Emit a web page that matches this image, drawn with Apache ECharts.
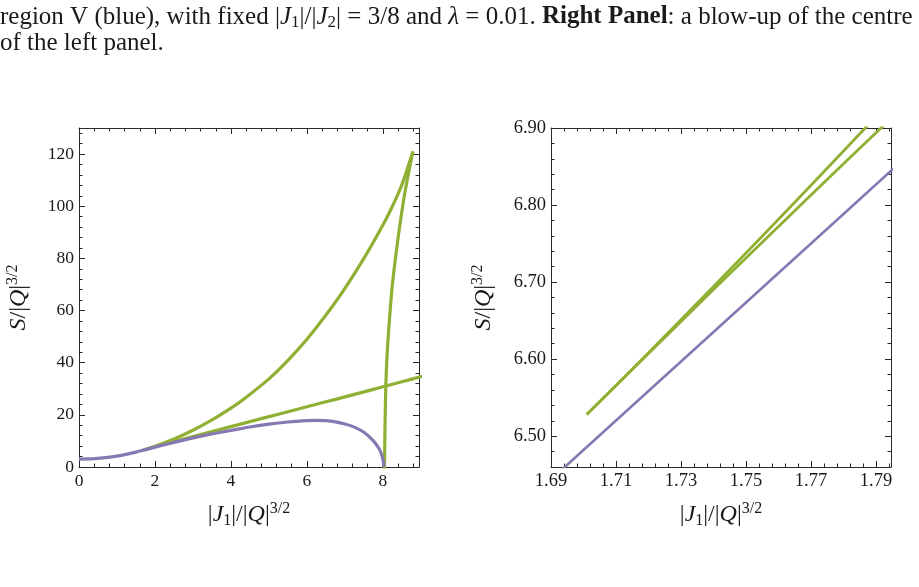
<!DOCTYPE html>
<html>
<head>
<meta charset="utf-8">
<script src="https://cdn.jsdelivr.net/npm/echarts@6/dist/echarts.min.js"></script>
<style>
html,body{margin:0;padding:0;background:#fff;}
#chart{width:919px;height:587px;}
</style>
</head>
<body>
<div id="chart"></div>
<script>
// ---------------- data ----------------
// Left panel: purple curve (region V)
const leftPurpleX = [0, 0.5, 1.0, 1.5, 1.7, 2.0, 2.5, 3.0, 3.5, 4.0, 4.5, 5.0, 5.5, 6.0, 6.25, 6.5, 6.75, 7.0, 7.25, 7.5, 7.75, 7.9, 7.96, 8.0, 8.015, 8.02];
const leftPurpleY = [3.0, 3.28, 4.15, 5.7, 6.48, 7.62, 9.45, 11.15, 12.7, 14.0, 15.35, 16.45, 17.25, 17.75, 17.85, 17.75, 17.3, 16.5, 15.3, 13.3, 10.0, 7.0, 5.0, 2.8, 1.4, 0];
// Left panel: green swallowtail, lower straight branch
const leftGreenLowerX = [1.701, 2, 2.5, 3, 3.5, 4, 4.5, 5, 5.5, 6, 6.5, 7, 7.5, 8, 8.5, 9.1];
const leftGreenLowerY = [6.53, 7.75, 9.72, 11.66, 13.58, 15.5, 17.4, 19.3, 21.2, 23.1, 25.0, 26.9, 28.8, 30.75, 32.7, 35.0];
// Left panel: green upper branch
const leftGreenUpperX = [1.701, 2.0, 2.5, 3.0, 3.5, 4.0, 4.3, 5.0, 5.5, 6.0, 6.6, 7.0, 7.5, 8.0, 8.25, 8.5, 8.79];
const leftGreenUpperY = [6.53, 7.93, 10.73, 14.11, 18.06, 22.6, 25.6, 33.8, 40.9, 49.0, 60.2, 68.5, 80.0, 92.8, 100.0, 108.3, 121.0];
// Left panel: green steep branch
const leftGreenSteepX = [8.79, 8.68, 8.60, 8.52, 8.42, 8.33, 8.25, 8.19, 8.14, 8.10, 8.075, 8.06, 8.05, 8.043, 8.04];
const leftGreenSteepY = [121, 113, 107, 100, 90, 80, 70, 60, 50, 40, 30, 20, 10, 2, -1];

// Right panel (blow-up)
const rightPurpleX = [1.685, 1.70, 1.72, 1.74, 1.76, 1.78, 1.80];
const rightPurpleY = [6.4246, 6.482, 6.5586, 6.6352, 6.7118, 6.7884, 6.865];
const rightGreenUpperX = [1.701, 1.71, 1.72, 1.73, 1.74, 1.75, 1.76, 1.77, 1.78, 1.79];
const rightGreenUpperY = [6.528, 6.5659, 6.6084, 6.6512, 6.6943, 6.7378, 6.7815, 6.8257, 6.8701, 6.9149];
const rightGreenLowerX = [1.701, 1.71, 1.72, 1.73, 1.74, 1.75, 1.76, 1.77, 1.78, 1.79, 1.80];
const rightGreenLowerY = [6.528, 6.5657, 6.6074, 6.6490, 6.6903, 6.7314, 6.7723, 6.8130, 6.8536, 6.8939, 6.9340];

// Tick labels
const leftXTicks = [0, 2, 4, 6, 8];
const leftYTicks = [0, 20, 40, 60, 80, 100, 120];
const rightXTicks = [1.69, 1.71, 1.73, 1.75, 1.77, 1.79];
const rightYTicks = [6.50, 6.60, 6.70, 6.80, 6.90];

// ---------------- styling ----------------
const FONT = 'Liberation Serif';
const C_GREEN = '#8fb032';
const C_PURPLE = '#8778b3';
const C_FRAME = '#2a2a2a';
const C_TEXT = '#1a1a1a';

function stepValues(a, b, step, dec) {
  const out = [];
  for (let k = 0; k < 10000; k++) {
    const v = +(a + k * step).toFixed(dec);
    if (v > b + 1e-9) break;
    out.push(v);
  }
  return out;
}
function minorsOf(a, b, step, dec, majors) {
  return stepValues(a, b, step, dec).filter(v => !majors.some(m => Math.abs(m - v) < 1e-9));
}

const LX = [0, 8.95], LY = [0, 130], RX = [1.69, 1.7946], RY = [6.46, 6.90];
const leftXMinor = minorsOf(LX[0], LX[1], 0.4, 4, leftXTicks);
const leftYMinor = minorsOf(LY[0], LY[1], 4, 4, leftYTicks);
const rightXMinor = minorsOf(RX[0], RX[1], 0.004, 4, rightXTicks);
const rightYMinor = minorsOf(RY[0], RY[1], 0.02, 4, rightYTicks);

const NAME_FS = 24;
const richName = {
  i: {fontFamily: FONT, fontStyle: 'italic', fontSize: NAME_FS, color: C_TEXT, lineHeight: 28},
  sub: {fontFamily: FONT, fontSize: 16, color: C_TEXT, verticalAlign: 'bottom', lineHeight: 17},
  sup: {fontFamily: FONT, fontSize: 16, color: C_TEXT, verticalAlign: 'top', lineHeight: 15}
};
const nameStyle = {fontFamily: FONT, fontSize: NAME_FS, color: C_TEXT, lineHeight: 28, rich: richName};
const X_NAME = '|{i|J}{sub|1}|/|{i|Q}|{sup|3/2}';
const Y_NAME = '{i|S}/|{i|Q}|{sup|3/2}';

function makeAxes(dim, grid, ext, majors, minors, fmt, fontSize, name, nameGap) {
  const base = {type: 'value', gridIndex: grid, min: ext[0], max: ext[1], scale: true,
    splitLine: {show: false}, minorTick: {show: false}, silent: true};
  const posA = dim === 'x' ? 'bottom' : 'left';
  const posB = dim === 'x' ? 'top' : 'right';
  const line = {show: true, onZero: false, lineStyle: {color: C_FRAME, width: 1}};
  const noLine = {show: false, onZero: false};
  const tMaj = {show: true, inside: true, length: 6, customValues: majors, lineStyle: {color: C_FRAME, width: 1}};
  const tMin = {show: true, inside: true, length: 3.5, customValues: minors, lineStyle: {color: C_FRAME, width: 1}};
  const lab = {show: true, customValues: majors, formatter: fmt, margin: 5,
    fontFamily: FONT, fontSize: fontSize, color: C_TEXT};
  const main = Object.assign({}, base, {position: posA, axisLine: line, axisTick: tMaj, axisLabel: lab,
    name: name, nameLocation: 'middle', nameGap: nameGap, nameRotate: dim === 'x' ? 0 : 90, nameTextStyle: nameStyle});
  return [
    main,
    Object.assign({}, base, {position: posA, axisLine: noLine, axisTick: tMin, axisLabel: {show: false}}),
    Object.assign({}, base, {position: posB, axisLine: line, axisTick: tMaj, axisLabel: {show: false}}),
    Object.assign({}, base, {position: posB, axisLine: noLine, axisTick: tMin, axisLabel: {show: false}})
  ];
}

const fmtInt = v => String(Math.round(v));
const fmt2 = v => (+v).toFixed(2);

const xAxes = [].concat(
  makeAxes('x', 0, LX, leftXTicks, leftXMinor, fmtInt, 17.5, X_NAME, 34),
  makeAxes('x', 1, RX, rightXTicks, rightXMinor, fmt2, 18.5, X_NAME, 34)
);
const yAxes = [].concat(
  makeAxes('y', 0, LY, leftYTicks, leftYMinor, fmtInt, 17.5, Y_NAME, 46),
  makeAxes('y', 1, RY, rightYTicks, rightYMinor, fmt2, 18.5, Y_NAME, 53)
);

function pairs(xs, ys) { return xs.map((x, i) => [x, ys[i]]); }
function lineSeries(xs, ys, color, width, axisIdx, smooth) {
  return {type: 'line', xAxisIndex: axisIdx, yAxisIndex: axisIdx, data: pairs(xs, ys),
    showSymbol: false, symbol: 'none', smooth: smooth, clip: true, silent: true,
    lineStyle: {color: color, width: width, cap: 'butt', join: 'round'}, z: 3};
}

const CAP_FS = 25;
const captionRich = {
  i: {fontFamily: FONT, fontStyle: 'italic', fontSize: CAP_FS, fill: C_TEXT, color: C_TEXT, lineHeight: 28},
  sub: {fontFamily: FONT, fontSize: 17, fill: C_TEXT, color: C_TEXT, verticalAlign: 'bottom', lineHeight: 18},
  b: {fontFamily: FONT, fontWeight: 'bold', fontSize: CAP_FS, fill: C_TEXT, color: C_TEXT, lineHeight: 28}
};

const option = {
  animation: false,
  backgroundColor: '#ffffff',
  grid: [
    {left: 79, top: 128, width: 340, height: 339, containLabel: false, outerBoundsMode: 'none'},
    {left: 551, top: 128, width: 340, height: 339, containLabel: false, outerBoundsMode: 'none'}
  ],
  xAxis: xAxes,
  yAxis: yAxes,
  graphic: [
    {type: 'text', left: 0, top: 3, silent: true, style: {
      text: 'region V (blue), with fixed |{i|J}{sub|1}|/|{i|J}{sub|2}| = 3/8 and {i|λ} = 0.01. {b|Right Panel}: a blow-up of the centre',
      fontFamily: FONT, fontSize: CAP_FS, fill: C_TEXT, lineHeight: 28, rich: captionRich}},
    {type: 'text', left: 0, top: 29, silent: true, style: {
      text: 'of the left panel.', fontFamily: FONT, fontSize: CAP_FS, fill: C_TEXT, lineHeight: 28}}
  ],
  series: [
    lineSeries(leftGreenLowerX, leftGreenLowerY, C_GREEN, 3.2, 0, 0.3),
    lineSeries(leftGreenUpperX, leftGreenUpperY, C_GREEN, 3.2, 0, 0.3),
    lineSeries(leftGreenSteepX, leftGreenSteepY, C_GREEN, 3.2, 0, 0.3),
    lineSeries(leftPurpleX, leftPurpleY, C_PURPLE, 3.2, 0, 0.3),
    lineSeries(rightGreenUpperX, rightGreenUpperY, C_GREEN, 2.8, 4, false),
    lineSeries(rightGreenLowerX, rightGreenLowerY, C_GREEN, 2.8, 4, false),
    lineSeries(rightPurpleX, rightPurpleY, C_PURPLE, 2.6, 4, false)
  ]
};

const chart = echarts.init(document.getElementById('chart'), null, {renderer: 'canvas'});
chart.setOption(option);
</script>
</body>
</html>
